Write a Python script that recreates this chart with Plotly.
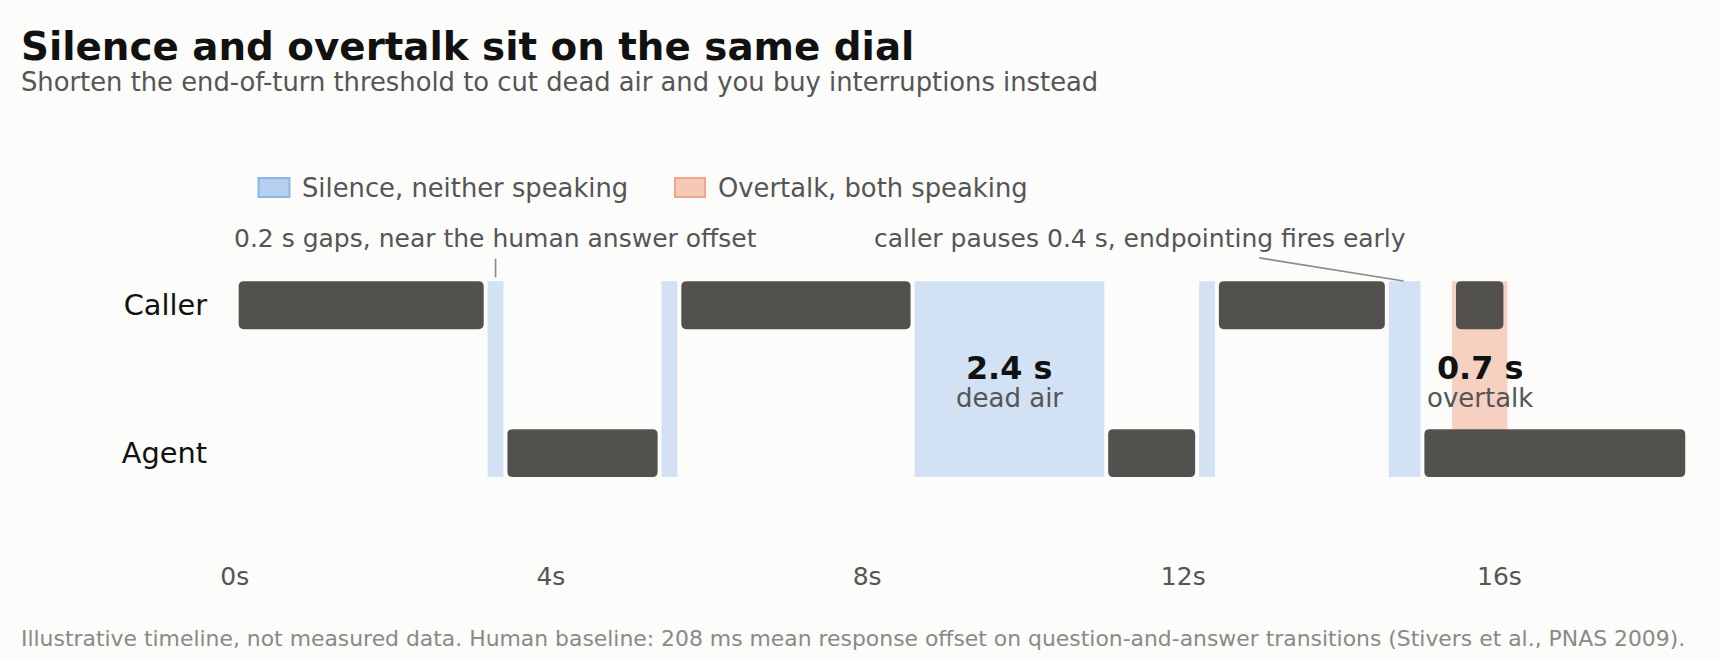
import plotly.graph_objects as go

# turn intervals in seconds
caller_start = [0.0, 5.6, 12.4, 15.4]
caller_end = [3.2, 8.6, 14.6, 16.1]
agent_start = [3.4, 11.0, 15.0]
agent_end = [5.4, 12.2, 18.4]
silence_start = [3.2, 5.4, 8.6, 12.2, 14.6]
silence_end = [3.4, 5.6, 11.0, 12.4, 15.0]
overtalk_start = [15.4]
overtalk_end = [16.1]

speakers = ["Caller", "Agent"]
speaker_rows = [1, 0]
tick_vals = [0, 4, 8, 12, 16]
tick_text = [f"{v}s" for v in tick_vals]
legend_labels = ["Silence, neither speaking", "Overtalk, both speaking"]

W, H = 1720, 660
L, R, T, B = 211, 15, 246, 101
X0, X1 = -0.3, 18.6
HALF = 0.162      # half bar height, row units
INSET = 0.05      # gap at bar ends, seconds
RX, RY = 0.065, 0.034

INK = "#53514d"
SIL = "#d2e1f4"
OVR = "#f6d0c0"
BG = "#fcfcfa"


def px(x):
    return (x - L) / (W - L - R)


def py(y):
    return 1 - (y - T) / (H - T - B)


def rounded(x0, x1, y0, y1):
    return (f"M{x0+RX},{y0} L{x1-RX},{y0} Q{x1},{y0} {x1},{y0+RY} "
            f"L{x1},{y1-RY} Q{x1},{y1} {x1-RX},{y1} L{x0+RX},{y1} "
            f"Q{x0},{y1} {x0},{y1-RY} L{x0},{y0+RY} Q{x0},{y0} {x0+RX},{y0} Z")


fig = go.Figure()

# silence spans both rows, overtalk sits between caller top and agent top
fig.add_trace(go.Bar(
    orientation="h",
    base=silence_start,
    x=[e - s for s, e in zip(silence_start, silence_end)],
    y=[0.5] * len(silence_start),
    width=1 + 2 * HALF,
    marker=dict(color=SIL, line=dict(width=0)),
    showlegend=False, hoverinfo="skip",
))
fig.add_trace(go.Bar(
    orientation="h",
    base=overtalk_start,
    x=[e - s for s, e in zip(overtalk_start, overtalk_end)],
    y=[(1 + HALF + HALF) / 2] * len(overtalk_start),
    width=1.0,
    marker=dict(color=OVR, line=dict(width=0)),
    showlegend=False, hoverinfo="skip",
))

shapes = []
for row, starts, ends in [(1, caller_start, caller_end), (0, agent_start, agent_end)]:
    for s, e in zip(starts, ends):
        shapes.append(dict(type="path", xref="x", yref="y",
                           path=rounded(s + INSET, e - INSET, row - HALF, row + HALF),
                           fillcolor=INK, line=dict(width=0)))

# legend swatches
sw = [(258.5, 289.5, "#b4cff0", "#8db5e6"), (675, 705, "#f6c8b6", "#f0a68a")]
text_x = [301.7, 717.5]
annotations = []
for (x0, x1, fill, edge), label, tx in zip(sw, legend_labels, text_x):
    shapes.append(dict(type="rect", xref="paper", yref="paper",
                       x0=px(x0), x1=px(x1), y0=py(197), y1=py(178),
                       fillcolor=fill, line=dict(color=edge, width=2)))
    annotations.append(dict(xref="paper", yref="paper", x=px(tx - 2), y=py(187.5),
                            xanchor="left", yanchor="middle", showarrow=False,
                            text=label, font=dict(size=25.8, color="#555555")))

annotations += [
    dict(xref="paper", yref="paper", x=px(19), y=py(46), xanchor="left", yanchor="middle",
         showarrow=False, text="<b>Silence and overtalk sit on the same dial</b>",
         font=dict(size=38.8, color="#111111")),
    dict(xref="paper", yref="paper", x=px(19), y=py(82), xanchor="left", yanchor="middle",
         showarrow=False,
         text="Shorten the end-of-turn threshold to cut dead air and you buy interruptions instead",
         font=dict(size=25.8, color="#555555")),
    dict(xref="paper", yref="paper", x=px(19), y=py(638.5), xanchor="left", yanchor="middle",
         showarrow=False,
         text="Illustrative timeline, not measured data. Human baseline: 208 ms mean response offset "
              "on question-and-answer transitions (Stivers et al., PNAS 2009).",
         font=dict(size=21.9, color="#8a8a85")),
]

# callouts
scale = (W - L - R) / (X1 - X0)
gap_mid = (silence_start[0] + silence_end[0]) / 2
early_mid = (silence_start[4] + silence_end[4]) / 2
annotations += [
    dict(x=gap_mid, y=1 + HALF, ax=0, ay=-42.5, showarrow=True, arrowhead=0,
         arrowwidth=1.6, arrowcolor="#8a8a8a", standoff=4, startstandoff=4,
         text="0.2 s gaps, near the human answer offset",
         font=dict(size=25, color="#555555")),
    dict(x=early_mid, y=1 + HALF, ax=1140 - (L + (early_mid - X0) * scale),
         ay=-42.5, showarrow=True, arrowhead=0, arrowwidth=1.6, arrowcolor="#8a8a8a",
         standoff=1, startstandoff=20, text="caller pauses 0.4 s, endpointing fires early",
         font=dict(size=25, color="#555555")),
]

dead_mid = (silence_start[2] + silence_end[2]) / 2
dead_len = silence_end[2] - silence_start[2]
over_mid = (overtalk_start[0] + overtalk_end[0]) / 2
over_len = overtalk_end[0] - overtalk_start[0]
for xm, val, word in [(dead_mid, dead_len, "dead air"), (over_mid, over_len, "overtalk")]:
    annotations.append(dict(x=xm, y=0.578, showarrow=False, yanchor="middle",
                            text=f"<b>{val:.1f} s</b>", font=dict(size=31.8, color="#111111")))
    annotations.append(dict(x=xm, y=0.372, showarrow=False, yanchor="middle",
                            text=word, font=dict(size=26, color="#555555")))

fig.update_layout(
    width=W, height=H,
    margin=dict(l=L, r=R, t=T, b=B),
    paper_bgcolor=BG, plot_bgcolor=BG,
    font=dict(family="DejaVu Sans"),
    barmode="overlay",
    shapes=shapes,
    annotations=annotations,
    xaxis=dict(range=[X0, X1], tickvals=tick_vals, ticktext=tick_text,
               showgrid=False, zeroline=False, showline=False, ticks="",
               tickfont=dict(size=25, color="#555555")),
    yaxis=dict(range=[-0.716, 1.4], tickvals=speaker_rows, ticktext=speakers,
               showgrid=False, zeroline=False, showline=False, ticks="",
               ticklabelstandoff=3,
               tickfont=dict(size=28.8, color="#111111")),
)

fig.write_html("out.html", config={"displayModeBar": False},
               post_script="document.body.style.margin='0';"
                           "document.body.style.background='#fcfcfa';")
